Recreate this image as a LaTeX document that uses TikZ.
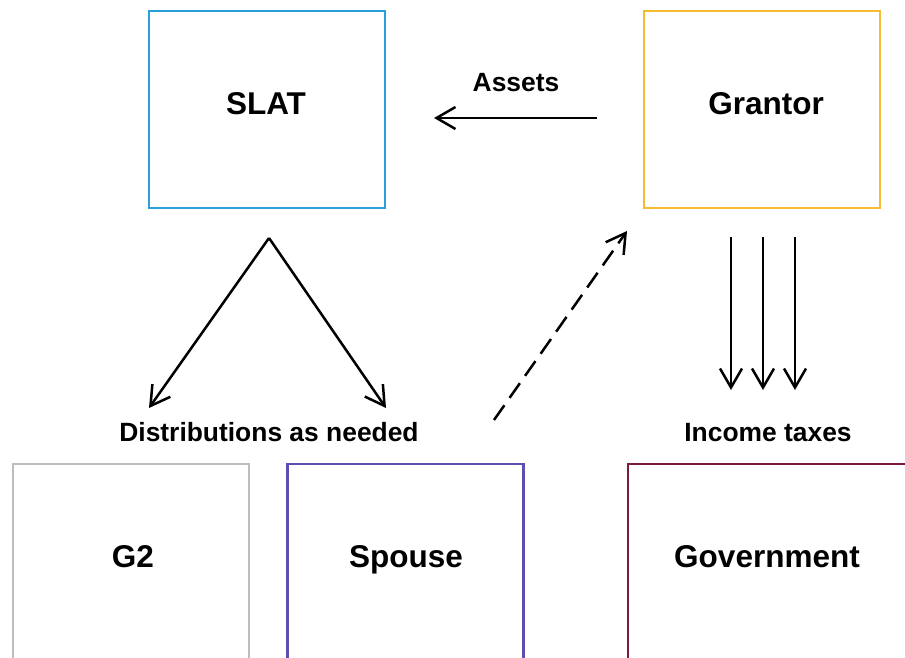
\documentclass[tikz,border=0pt]{standalone}
\usepackage{fontspec}
\setmainfont{Liberation Sans}
\usetikzlibrary{arrows.meta}
\definecolor{slatblue}{HTML}{2A9FD8}
\definecolor{grantoryellow}{HTML}{F8BA2E}
\definecolor{gtwogray}{HTML}{BDBDBD}
\definecolor{spousepurple}{HTML}{5B4FB0}
\definecolor{govred}{HTML}{7A1B3F}
\begin{document}
\begin{tikzpicture}[x=1pt,y=-1pt,
  party/.style={draw,line width=2.8pt,minimum width=236pt,minimum height=197pt,inner sep=0pt},
  partyname/.style={anchor=base,inner sep=0pt,font=\fontsize{31.5}{36}\selectfont\bfseries},
  flowlabel/.style={anchor=base,inner sep=0pt,font=\fontsize{26.4}{30}\selectfont\bfseries},
  flow/.style={line width=2.5pt,-{Straight Barb[length=19pt,width=22pt,line width=2.5pt]}}]
  % canvas
  \clip (0,0) rectangle (905,658);
  \fill[white] (0,0) rectangle (905,658);

  % parties
  \node[party,draw=slatblue] (slat) at (267,109.5) {};
  \node[partyname] (slatname) at (266,115) {SLAT};
  \node[party,draw=grantoryellow] (grantor) at (762,109.5) {};
  \node[partyname] (grantorname) at (766,115) {Grantor};
  \node[party,draw=gtwogray,minimum height=260pt,anchor=north] (g2) at (131,462.5) {};
  \node[partyname] (g2name) at (133,567) {G2};
  \node[party,draw=spousepurple,minimum height=260pt,anchor=north] (spouse) at (405.5,462.5) {};
  \node[partyname] (spousename) at (406,567) {Spouse};
  \node[party,draw=govred,minimum width=320pt,minimum height=260pt,anchor=north west] (gov) at (626.5,462.5) {};
  \node[partyname] (govname) at (767,567) {Government};

  % flow labels
  \node[flowlabel] (assets) at (516,91.5) {Assets};
  \node[flowlabel] (dist) at (269,441.5) {Distributions as needed};
  \node[flowlabel] (tax) at (768,441.5) {Income taxes};

  % flow end points
  \coordinate (assetsA) at (597,118);
  \coordinate (assetsB) at (434,118);
  \coordinate (apex) at (269,238);
  \coordinate (toG2) at (149,408);
  \coordinate (toSpouse) at (386,408);
  \coordinate (back0) at (494,420);
  \coordinate (back1) at (627,231);
  \foreach \i/\x in {1/731,2/763,3/795}{
    \coordinate (taxtop\i) at (\x,237);
    \coordinate (taxbot\i) at (\x,390);
  }

  % flows
  \draw[flow] (assetsA) -- (assetsB);
  \draw[flow] (apex) -- (toG2);
  \draw[flow] (apex) -- (toSpouse);
  \draw[flow,dash pattern=on 18pt off 9pt] (back0) -- (back1);
  \foreach \i in {1,2,3}{
    \draw[flow] (taxtop\i) -- (taxbot\i);
  }
\end{tikzpicture}
\end{document}
